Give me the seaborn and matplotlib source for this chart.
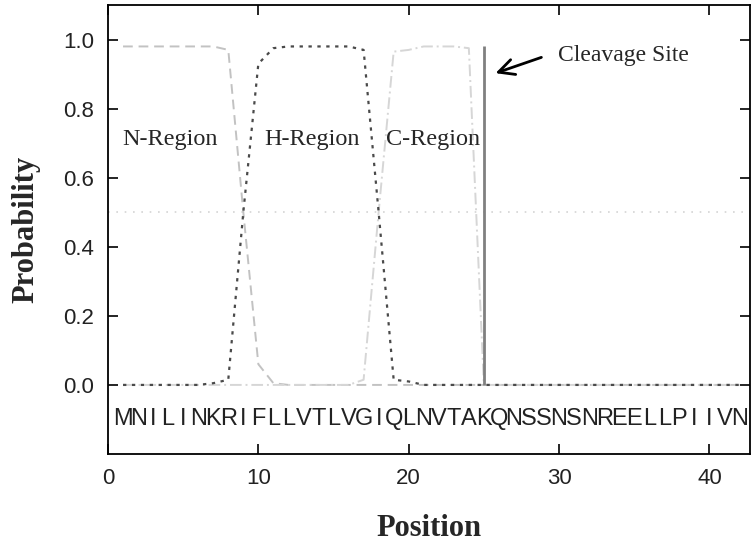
import matplotlib
matplotlib.use("Agg")
import matplotlib.pyplot as plt
import seaborn as sns
import pandas as pd

# residue sequence and per-position region probabilities
sequence = "MNILINKRIFLLVTLVGIQLNVTAKQNSSNSNREELLPIIVN"
positions = list(range(1, 43))

n_region = [0.98, 0.98, 0.98, 0.98, 0.98, 0.98, 0.98, 0.97, 0.50, 0.06,
            0.005, 0.0, 0.0, 0.0, 0.0, 0.0, 0.0, 0.0, 0.0, 0.0,
            0.0, 0.0, 0.0, 0.0, 0.0, 0.0, 0.0, 0.0, 0.0, 0.0,
            0.0, 0.0, 0.0, 0.0, 0.0, 0.0, 0.0, 0.0, 0.0, 0.0,
            0.0, 0.0]
h_region = [0.0, 0.0, 0.0, 0.0, 0.0, 0.0, 0.005, 0.015, 0.50, 0.93,
            0.975, 0.98, 0.98, 0.98, 0.98, 0.98, 0.97, 0.50, 0.015, 0.01,
            0.0, 0.0, 0.0, 0.0, 0.0, 0.0, 0.0, 0.0, 0.0, 0.0,
            0.0, 0.0, 0.0, 0.0, 0.0, 0.0, 0.0, 0.0, 0.0, 0.0,
            0.0, 0.0]
c_region = [0.0, 0.0, 0.0, 0.0, 0.0, 0.0, 0.0, 0.0, 0.0, 0.0,
            0.0, 0.0, 0.0, 0.0, 0.0, 0.0, 0.015, 0.50, 0.965, 0.97,
            0.98, 0.98, 0.98, 0.975, 0.0, 0.0, 0.0, 0.0, 0.0, 0.0,
            0.0, 0.0, 0.0, 0.0, 0.0, 0.0, 0.0, 0.0, 0.0, 0.0,
            0.0, 0.0]

cleavage_pos = 25
cleavage_prob = 0.98
region_labels = ["N-Region", "H-Region", "C-Region"]
region_label_x = [4.1, 13.55, 21.65]

x_ticks = [0, 10, 20, 30, 40]
y_ticks = [0.0, 0.2, 0.4, 0.6, 0.8, 1.0]

sns.set_style("ticks")
plt.rcParams["font.family"] = ["Liberation Sans", "DejaVu Sans"]
serif = ["Liberation Serif", "DejaVu Serif"]

fig = plt.figure(figsize=(7.56, 5.43), dpi=100)
fig.subplots_adjust(left=108/756, right=750/756, top=1-5/543, bottom=1-454/543)
ax = fig.add_subplot(111)

df = pd.DataFrame({"pos": positions, "N": n_region, "H": h_region, "C": c_region})

# threshold reference line
ax.axhline(0.5, color="#d4d4d4", lw=1.2, linestyle=(0, (1, 4)), zorder=1)

sns.lineplot(data=df, x="pos", y="N", ax=ax, color="#c2c2c2", lw=1.4,
             linestyle=(0, (5, 3)), zorder=2)
sns.lineplot(data=df, x="pos", y="C", ax=ax, color="#d6d6d6", lw=1.4,
             linestyle=(0, (6, 2, 1, 2)), zorder=2)
sns.lineplot(data=df, x="pos", y="H", ax=ax, color="#4a4a4a", lw=1.6,
             linestyle=(0, (1.5, 2.5)), zorder=3)

# cleavage site marker
ax.vlines(cleavage_pos, 0, cleavage_prob, color="#808080", lw=2, zorder=4)
ax.annotate("", xy=(25.6, 0.9), xytext=(29.0, 0.951),
            arrowprops=dict(arrowstyle="->", lw=2, color="black", mutation_scale=28))
ax.text(29.9, 0.955, "Cleavage Site", ha="left", va="center", fontsize=17,
        family=serif)

for lab, lx in zip(region_labels, region_label_x):
    ax.text(lx, 0.712, lab, ha="center", va="center", fontsize=17.5, family=serif)

for p, aa in zip(positions, sequence):
    ax.text(p, -0.1, aa, ha="center", va="center", fontsize=17,
            family=["Liberation Sans Narrow", "Liberation Sans"], color="#222222")

ax.set_xlim(0, 42.7)
ax.set_ylim(-0.2, 1.1)
ax.set_xticks(x_ticks)
ax.set_yticks(y_ticks)
ax.set_yticklabels([f"{v:.1f}" for v in y_ticks])
ax.tick_params(direction="in", top=True, right=True, length=7, width=1.2,
               labelsize=16, colors="black", labelcolor="#222222")
ax.tick_params(axis="y", pad=10)
ax.tick_params(axis="x", pad=10)
for s in ax.spines.values():
    s.set_linewidth(1.3)
    s.set_color("black")

ax.set_xlabel("Position", fontsize=22, fontweight="bold", family=serif, labelpad=18)
ax.set_ylabel("Probability", fontsize=22, fontweight="bold", family=serif, labelpad=16)

fig.savefig("out.png", dpi=100)
